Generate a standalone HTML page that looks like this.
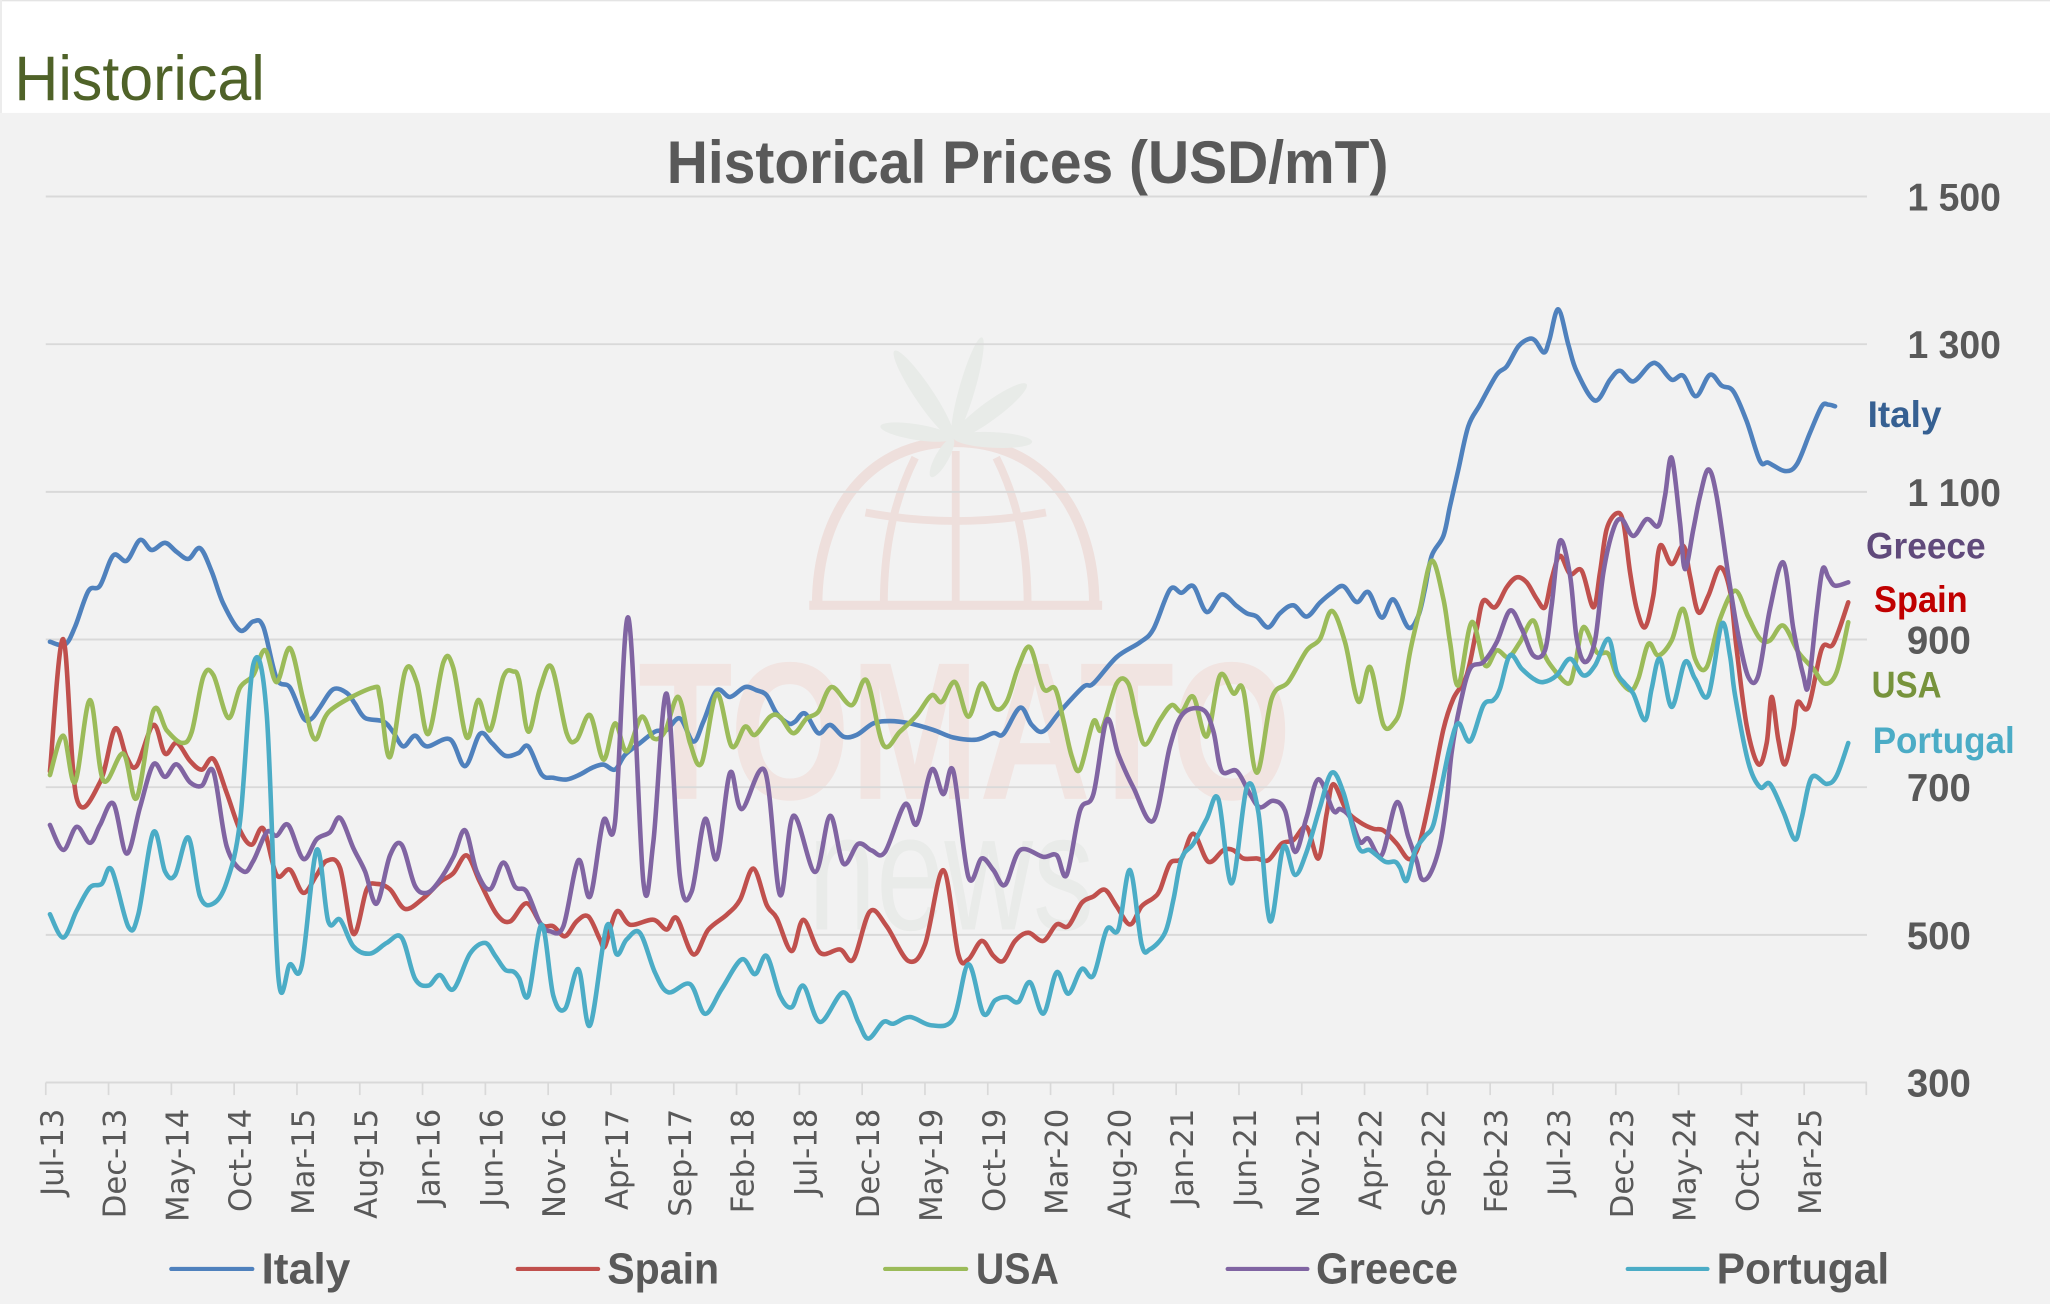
<!DOCTYPE html>
<html>
<head>
<meta charset="utf-8">
<style>
html,body{margin:0;padding:0;background:#fff;width:2050px;height:1304px;overflow:hidden}
svg{display:block}
</style>
</head>
<body>
<svg width="2050" height="1304" viewBox="0 0 1568 997.4" xmlns="http://www.w3.org/2000/svg" font-family="'Liberation Sans', 'DejaVu Sans', sans-serif">
<rect width="1568" height="997.4" fill="#ffffff"/>
<rect y="86.4" width="1568" height="911" fill="#f2f2f2"/>
<rect width="1568" height="1" fill="#e4e4e4"/>
<rect width="1.5" height="86.4" fill="#ececec"/>
<text x="11" y="76.5" font-size="48" fill="#4f6228" textLength="191.5" lengthAdjust="spacingAndGlyphs">Historical</text>

<!-- watermark -->
<g>
<text x="488" y="611" font-size="150" font-weight="bold" fill="#f1e4e1" textLength="500" lengthAdjust="spacingAndGlyphs">TOMATO</text>
<text x="618" y="711" font-size="128" fill="#e9ebe9" textLength="219" lengthAdjust="spacingAndGlyphs">news</text>
<g fill="none" stroke="#eedfdc" stroke-width="8">
<path d="M625,463 C625,390 665,338 731,338 C797,338 837,390 837,463"/>
<line x1="619" y1="463" x2="843" y2="463" stroke-width="7"/>
<line x1="731" y1="345" x2="731" y2="463" stroke-width="6"/>
<path d="M700,350 C680,390 676,430 676,463" stroke-width="6"/>
<path d="M762,350 C782,390 786,430 786,463" stroke-width="6"/>
<path d="M662,392 Q731,405 800,392" stroke-width="6"/>
</g>
<g fill="#e8ebe8">
<ellipse cx="706.5" cy="301.5" rx="40" ry="7" transform="rotate(56.1 706.5 301.5)"/>
<ellipse cx="740" cy="296.5" rx="40" ry="6" transform="rotate(-74 740 296.5)"/>
<ellipse cx="757" cy="314.5" rx="35" ry="7" transform="rotate(-36.2 757 314.5)"/>
<ellipse cx="701" cy="330.5" rx="28" ry="6" transform="rotate(9.1 701 330.5)"/>
<ellipse cx="720.5" cy="350" rx="17" ry="5" transform="rotate(119.5 720.5 350)"/>
<ellipse cx="759.5" cy="336.5" rx="30" ry="6" transform="rotate(2.8 759.5 336.5)"/>
</g>
</g>

<!-- gridlines -->
<g stroke="#d9d9d9" stroke-width="1.5">
<line x1="35" y1="150.3" x2="1428" y2="150.3"/>
<line x1="35" y1="263.25" x2="1428" y2="263.25"/>
<line x1="35" y1="376.2" x2="1428" y2="376.2"/>
<line x1="35" y1="489.15" x2="1428" y2="489.15"/>
<line x1="35" y1="602.1" x2="1428" y2="602.1"/>
<line x1="35" y1="715.05" x2="1428" y2="715.05"/>
<line x1="35" y1="828" x2="1428" y2="828"/>
</g>

<text x="786" y="140" text-anchor="middle" font-size="46" font-weight="bold" fill="#595959" textLength="552" lengthAdjust="spacingAndGlyphs">Historical Prices (USD/mT)</text>

<!-- series -->
<g fill="none" stroke-width="3.5" stroke-linejoin="round" stroke-linecap="round">
<polyline class="s" stroke="#4f81bd" points="38.2,490.9 49.7,493.0 57.4,479.4 67.6,452.1 76.5,448.0 86.7,424.8 96.9,428.9 107.1,413.0 116.0,420.7 126.2,415.2 135.1,422.1 144.1,427.5 153.0,419.3 161.9,437.1 170.8,461.7 183.6,482.2 193.8,475.3 201.4,479.4 211.6,519.0 221.8,525.9 232.0,549.1 238.4,549.6 244.8,540.9 254.9,527.2 265.2,530.0 271.5,538.2 279.2,549.1 293.2,551.8 300.8,560.0 308.5,570.9 317.4,562.7 326.4,570.9 344.2,565.5 355.7,586.0 367.1,561.3 376.1,568.2 386.3,578.0 396.5,576.0 404.1,570.9 414.3,592.4 423.2,594.9 433.4,596.2 443.6,592.4 452.6,587.4 461.5,584.8 470.4,588.6 478.1,577.3 489.5,568.4 501.0,559.6 509.9,558.3 520.1,549.5 530.3,567.2 538.0,552.0 548.2,528.0 558.4,533.1 569.8,525.5 578.8,528.0 586.4,531.8 594.1,545.7 603.0,553.3 608.1,552.0 615.7,545.7 625.9,560.8 634.9,554.5 645.1,563.4 655.3,562.1 668.0,553.3 680.7,551.5 696.0,553.3 713.9,558.3 729.2,564.1 747.0,565.7 759.8,560.7 767.4,561.5 780.2,541.3 789.1,554.4 798.0,559.4 810.8,544.3 828.6,525.4 836.3,522.8 854.1,502.6 872.0,491.3 882.2,481.2 894.9,450.9 903.8,453.4 912.8,448.4 923.0,468.1 934.4,454.7 945.9,463.5 953.6,469.1 961.2,471.6 970.1,479.9 979.0,469.1 989.2,463.0 999.4,471.6 1009.6,461.0 1018.6,453.4 1027.5,448.4 1037.7,460.5 1046.6,452.9 1056.8,472.4 1065.7,458.5 1077.2,479.9 1084.9,470.8 1089.9,450.5 1095.1,425.1 1104.0,409.9 1109.1,387.0 1115.5,359.0 1123.1,326.0 1132.0,309.5 1144.8,286.6 1152.4,280.3 1161.3,265.0 1169.0,259.4 1174.1,260.4 1181.0,269.6 1185.1,259.9 1191.9,236.6 1199.6,263.7 1206.0,284.1 1220.0,306.4 1231.5,290.4 1239.1,283.6 1249.3,291.7 1262.0,279.0 1268.4,279.0 1278.6,290.4 1287.5,287.4 1297.2,303.1 1307.9,286.6 1316.9,295.0 1325.8,299.3 1336.0,322.2 1346.2,352.7 1352.6,353.9 1365.3,360.3 1374.3,355.2 1384.4,331.1 1393.4,310.8 1398.5,309.5 1403.6,310.8"/>
<polyline class="s" stroke="#c0504d" points="38.2,590.0 48.4,488.9 58.6,610.5 76.5,598.3 88.0,557.3 96.9,579.1 104.5,585.9 117.3,554.5 126.2,576.4 135.1,568.2 145.3,581.9 154.3,588.7 163.2,580.5 173.4,606.5 183.6,635.1 192.5,646.1 201.4,633.8 211.6,669.3 221.8,665.2 232.0,682.9 242.2,669.3 249.9,658.4 260.1,663.8 270.3,714.3 280.5,680.2 288.1,676.1 298.3,680.2 309.8,695.2 323.8,687.0 336.5,674.7 346.7,667.9 357.0,654.3 367.1,674.7 379.9,699.3 390.1,704.8 402.8,690.9 414.3,707.3 423.2,708.5 432.2,716.1 441.1,704.7 450.0,701.0 458.9,718.6 462.8,723.7 471.7,697.2 481.9,707.3 499.7,703.5 509.9,711.0 517.6,702.2 530.3,730.0 541.8,711.0 555.8,699.7 566.0,688.3 576.2,664.3 586.4,692.1 594.1,702.2 605.5,727.5 614.5,703.5 627.2,728.7 642.5,726.2 652.7,733.8 665.4,697.2 678.2,708.5 694.8,735.0 707.5,722.4 721.5,665.6 733.0,730.0 740.7,733.8 750.9,719.7 759.8,731.1 767.4,734.9 776.4,719.7 786.5,713.4 798.0,719.7 808.2,707.1 817.1,708.4 827.3,690.7 836.3,685.7 845.2,680.6 854.1,693.2 864.3,707.1 873.2,693.2 882.2,686.9 887.3,680.6 894.9,660.4 903.8,656.6 912.8,637.7 924.2,659.1 935.7,650.3 943.4,650.3 951.0,656.6 961.2,656.6 970.1,657.9 980.3,645.3 989.2,642.7 999.4,632.6 1008.4,656.6 1014.7,622.5 1019.8,599.8 1030.0,620.0 1040.2,628.9 1050.4,633.9 1058.1,635.2 1068.3,645.3 1077.2,657.0 1083.6,651.0 1088.7,633.5 1095.1,603.4 1104.0,558.0 1111.6,534.4 1121.8,516.6 1129.5,481.0 1134.6,459.4 1143.5,464.5 1152.4,449.2 1160.1,441.6 1167.7,445.4 1175.4,458.1 1181.7,464.5 1186.8,442.9 1193.2,425.1 1200.9,439.1 1209.8,436.5 1218.7,464.5 1223.8,437.8 1228.9,404.8 1236.6,392.6 1241.7,399.7 1246.8,437.8 1251.9,465.8 1258.2,479.7 1264.6,455.6 1269.7,417.5 1278.6,431.5 1287.5,417.5 1292.6,440.3 1299.0,468.3 1306.7,455.6 1315.6,434.0 1323.2,451.8 1328.3,496.3 1336.0,555.0 1344.9,584.6 1351.3,568.3 1355.1,533.1 1360.2,565.8 1365.3,584.6 1371.7,558.2 1375.0,537.0 1383.2,540.7 1393.4,496.3 1402.3,492.4 1413.7,460.7"/>
<polyline class="s" stroke="#9bbb59" points="38.2,592.8 48.4,562.7 57.4,598.3 68.8,535.4 79.0,596.9 94.3,576.4 104.5,610.5 117.3,543.6 127.5,558.6 138.9,568.2 146.6,560.0 155.5,517.7 163.2,516.3 174.6,549.1 183.6,525.9 193.8,516.3 202.7,497.2 211.6,521.8 221.8,495.8 232.0,535.4 240.9,565.5 252.4,543.6 285.6,525.9 290.7,534.1 298.3,579.1 309.8,513.6 318.7,521.8 327.6,561.4 339.1,506.7 346.7,510.8 357.0,564.1 365.9,535.4 374.8,558.6 385.0,517.7 392.6,513.6 397.0,520.0 404.1,559.6 413.0,526.8 422.0,510.4 433.4,560.8 441.1,565.9 451.3,547.0 461.5,581.0 470.4,553.3 479.3,574.7 490.8,548.2 499.7,564.6 508.6,559.6 518.8,533.1 527.8,568.4 536.7,583.6 548.2,530.6 559.6,570.9 569.8,555.8 577.5,562.1 589.0,548.2 596.6,548.2 606.8,560.8 617.0,549.5 625.9,544.4 636.1,525.5 651.4,539.4 662.9,520.5 675.6,569.7 688.4,559.6 701.2,547.0 712.6,531.8 720.3,536.9 730.5,521.7 740.7,548.2 750.9,522.8 761.1,541.8 770.0,536.7 778.9,510.2 787.8,495.1 798.0,526.6 807.0,526.6 813.3,550.6 819.7,578.4 826.1,588.5 836.3,551.9 842.6,558.2 854.1,522.8 863.0,522.8 869.4,549.3 875.8,569.5 887.3,550.6 896.2,539.3 903.8,544.3 912.8,533.0 923.0,563.2 933.2,516.5 943.4,530.4 951.0,527.9 961.2,591.0 972.7,534.2 985.4,521.6 999.4,497.6 1009.6,488.8 1018.6,467.3 1028.8,491.3 1039.0,536.7 1047.9,510.2 1058.1,554.4 1067.0,551.9 1072.0,538.0 1078.5,498.8 1086.1,465.8 1095.1,428.9 1104.0,458.1 1109.1,491.2 1115.5,524.2 1125.7,475.9 1135.9,509.0 1144.8,497.5 1153.7,502.6 1162.6,491.2 1172.8,474.6 1180.5,498.8 1188.1,511.5 1199.6,522.9 1204.7,509.0 1211.1,479.7 1221.3,498.8 1230.2,500.1 1236.6,516.6 1246.8,528.0 1253.1,519.1 1260.8,492.5 1268.4,501.3 1278.6,489.9 1287.5,465.8 1296.5,503.9 1305.4,510.3 1315.6,473.4 1327.1,451.8 1337.3,472.1 1346.2,488.6 1353.8,489.9 1364.0,478.5 1375.5,498.8 1386.9,511.5 1395.8,522.9 1404.8,514.0 1413.7,475.9"/>
<polyline class="s" stroke="#8064a2" points="38.2,631.0 48.4,650.1 58.6,632.4 68.8,644.7 76.5,631.0 86.7,614.6 96.9,652.9 107.1,617.4 117.3,584.6 126.2,594.2 135.1,584.6 145.3,598.3 154.3,601.0 163.2,590.1 173.4,647.4 186.1,666.5 193.8,658.4 204.0,636.5 211.6,639.2 220.5,631.0 232.0,657.0 242.2,641.9 252.4,636.5 260.1,625.6 270.3,648.8 279.2,666.5 288.1,691.1 298.3,654.3 307.2,646.1 317.4,677.5 326.4,682.9 335.3,674.7 346.7,655.6 355.7,635.1 364.6,666.5 374.8,680.2 385.0,659.7 393.9,678.2 402.8,682.0 413.0,706.0 420.7,712.3 430.9,708.5 442.4,658.0 451.3,685.8 461.5,627.8 470.4,629.0 480.6,472.5 492.1,674.4 499.7,644.2 509.9,530.6 520.1,670.7 529.0,682.0 539.2,626.5 548.2,656.8 558.4,591.1 567.3,618.9 585.1,589.9 596.6,684.5 606.8,624.0 623.4,666.9 634.9,624.0 645.1,660.6 656.5,645.4 666.7,650.5 676.9,651.7 692.2,615.1 701.2,630.3 712.6,588.6 721.5,607.5 729.2,589.9 740.7,670.7 750.9,656.6 759.8,665.5 768.7,676.8 780.2,650.3 798.0,655.4 808.2,654.1 815.9,669.2 826.1,620.0 836.3,607.4 846.5,550.6 855.4,577.1 866.9,602.4 882.2,627.6 894.9,570.8 905.1,545.6 920.4,543.0 928.1,559.4 934.4,589.7 945.9,589.7 956.1,607.4 963.7,617.5 973.9,612.5 982.9,620.0 990.5,651.6 999.4,625.1 1008.4,596.0 1019.8,620.0 1025.0,618.8 1032.6,625.1 1040.2,644.0 1046.6,641.5 1056.8,654.1 1068.3,613.7 1077.2,640.2 1083.6,658.5 1087.4,672.3 1093.8,668.6 1101.4,646.0 1106.5,613.4 1110.3,575.8 1116.7,539.5 1124.4,511.5 1134.6,506.4 1144.8,491.2 1155.0,467.0 1163.9,481.0 1172.8,501.3 1181.7,497.5 1186.8,463.2 1193.2,413.7 1200.9,440.3 1206.0,488.6 1212.3,506.4 1220.0,489.9 1226.4,437.8 1234.0,404.8 1240.4,397.1 1249.3,409.9 1259.5,397.1 1268.4,402.2 1273.5,379.4 1278.6,350.1 1285.0,399.7 1288.8,435.3 1295.2,404.8 1300.3,379.4 1306.7,359.0 1313.0,379.4 1322.0,440.3 1329.6,486.1 1337.3,517.9 1344.9,516.6 1353.8,465.8 1364.0,430.2 1371.7,481.0 1379.3,516.6 1383.2,524.2 1389.5,468.3 1394.1,435.3 1398.5,441.6 1403.6,448.0 1413.7,445.4"/>
<polyline class="s" stroke="#4bacc6" points="38.2,699.3 48.4,717.1 58.6,696.6 68.8,678.8 77.8,676.1 85.4,665.2 98.2,708.9 105.8,699.3 117.3,636.5 126.2,666.5 133.9,669.3 144.1,640.6 153.0,685.7 163.2,691.1 173.4,674.7 183.6,628.3 193.8,508.1 204.0,546.3 212.9,747.1 221.8,737.6 230.7,738.9 242.2,650.1 251.1,704.8 260.1,703.4 270.3,723.9 283.0,729.4 295.8,721.2 307.2,717.1 317.4,748.5 327.6,753.9 336.5,745.8 346.7,756.7 359.5,729.4 371.0,721.2 378.6,730.8 386.3,741.7 392.6,743.1 397.0,748.0 404.1,761.5 414.3,707.3 423.2,761.5 432.2,771.6 442.4,741.3 451.3,784.3 464.0,708.5 471.7,730.0 479.3,718.6 489.5,713.6 501.0,743.9 511.2,759.0 527.8,752.7 539.2,775.4 552.0,756.5 567.3,733.8 577.5,745.1 586.4,731.2 596.6,761.5 605.5,770.4 614.5,754.0 627.2,781.7 645.1,759.0 656.5,781.7 664.2,794.4 675.6,781.7 683.3,783.0 696.0,777.9 712.6,784.3 729.2,779.2 740.7,737.6 752.1,775.3 761.1,765.2 770.0,762.6 778.9,766.4 787.8,751.3 798.0,775.3 808.2,743.7 817.1,760.1 827.3,741.2 836.3,746.2 846.5,710.9 855.4,710.9 864.3,665.5 873.2,722.3 879.6,726.1 891.1,713.4 897.5,688.2 903.8,656.6 912.8,645.3 923.0,626.3 931.9,611.2 942.1,675.6 953.6,602.4 962.5,621.3 971.4,704.6 981.6,647.8 990.5,669.2 999.4,651.6 1009.6,617.5 1018.6,591.0 1027.5,606.1 1039.0,647.8 1047.9,650.3 1059.4,659.1 1067.0,659.1 1070.8,663.6 1075.9,673.6 1082.3,651.0 1089.9,639.7 1096.3,631.0 1102.7,600.9 1109.1,570.8 1115.5,553.2 1124.4,567.0 1134.6,539.5 1142.2,535.6 1147.3,526.8 1154.9,501.3 1163.9,511.5 1172.8,519.1 1180.5,521.7 1190.7,516.6 1200.9,503.9 1211.1,516.6 1220.0,509.0 1230.2,488.6 1236.6,514.0 1242.9,522.9 1249.3,530.6 1258.2,550.9 1263.3,526.8 1269.7,503.9 1278.6,540.7 1288.8,506.4 1296.5,519.1 1306.7,531.8 1316.9,477.2 1323.2,501.3 1327.1,531.8 1337.3,583.3 1346.2,602.1 1353.8,599.6 1364.0,620.9 1372.9,642.2 1378.0,626.0 1385.7,594.6 1397.2,599.6 1404.8,593.3 1413.7,568.3"/>
</g>

<!-- end labels -->
<g font-weight="bold" font-size="28">
<text x="1428.5" y="326.5" fill="#366092" textLength="56.5" lengthAdjust="spacingAndGlyphs">Italy</text>
<text x="1427.3" y="427" fill="#604a7b" textLength="91.5" lengthAdjust="spacingAndGlyphs">Greece</text>
<text x="1433.4" y="468" fill="#c00000" textLength="71.6" lengthAdjust="spacingAndGlyphs">Spain</text>
<text x="1431.6" y="533.6" fill="#77933c" textLength="53.4" lengthAdjust="spacingAndGlyphs">USA</text>
<text x="1432.4" y="576" fill="#4bacc6" textLength="108.6" lengthAdjust="spacingAndGlyphs">Portugal</text>
</g>

<!-- y axis labels -->
<g font-weight="bold" font-size="30" fill="#595959">
<text x="1459" y="161" textLength="71.5" lengthAdjust="spacingAndGlyphs">1 500</text>
<text x="1459" y="274" textLength="71.5" lengthAdjust="spacingAndGlyphs">1 300</text>
<text x="1459" y="387" textLength="71.5" lengthAdjust="spacingAndGlyphs">1 100</text>
<text x="1458.5" y="499.9" textLength="49" lengthAdjust="spacingAndGlyphs">900</text>
<text x="1458.5" y="612.8" textLength="49" lengthAdjust="spacingAndGlyphs">700</text>
<text x="1458.5" y="725.8" textLength="49" lengthAdjust="spacingAndGlyphs">500</text>
<text x="1458.5" y="838.7" textLength="49" lengthAdjust="spacingAndGlyphs">300</text>
</g>

<!-- x axis labels -->
<g font-family="'DejaVu Sans', 'Liberation Sans', sans-serif" font-size="23.5" fill="#595959" text-anchor="end">
<text transform="translate(48,848) rotate(-90)">Jul-13</text>
<text transform="translate(96.03,848) rotate(-90)">Dec-13</text>
<text transform="translate(144.07,848) rotate(-90)">May-14</text>
<text transform="translate(192.1,848) rotate(-90)">Oct-14</text>
<text transform="translate(240.14,848) rotate(-90)">Mar-15</text>
<text transform="translate(288.17,848) rotate(-90)">Aug-15</text>
<text transform="translate(336.21,848) rotate(-90)">Jan-16</text>
<text transform="translate(384.24,848) rotate(-90)">Jun-16</text>
<text transform="translate(432.28,848) rotate(-90)">Nov-16</text>
<text transform="translate(480.31,848) rotate(-90)">Apr-17</text>
<text transform="translate(528.35,848) rotate(-90)">Sep-17</text>
<text transform="translate(576.38,848) rotate(-90)">Feb-18</text>
<text transform="translate(624.42,848) rotate(-90)">Jul-18</text>
<text transform="translate(672.45,848) rotate(-90)">Dec-18</text>
<text transform="translate(720.49,848) rotate(-90)">May-19</text>
<text transform="translate(768.52,848) rotate(-90)">Oct-19</text>
<text transform="translate(816.56,848) rotate(-90)">Mar-20</text>
<text transform="translate(864.59,848) rotate(-90)">Aug-20</text>
<text transform="translate(912.63,848) rotate(-90)">Jan-21</text>
<text transform="translate(960.66,848) rotate(-90)">Jun-21</text>
<text transform="translate(1008.7,848) rotate(-90)">Nov-21</text>
<text transform="translate(1056.73,848) rotate(-90)">Apr-22</text>
<text transform="translate(1104.77,848) rotate(-90)">Sep-22</text>
<text transform="translate(1152.8,848) rotate(-90)">Feb-23</text>
<text transform="translate(1200.84,848) rotate(-90)">Jul-23</text>
<text transform="translate(1248.87,848) rotate(-90)">Dec-23</text>
<text transform="translate(1296.91,848) rotate(-90)">May-24</text>
<text transform="translate(1344.94,848) rotate(-90)">Oct-24</text>
<text transform="translate(1392.98,848) rotate(-90)">Mar-25</text>
</g>

<!-- ticks -->
<g stroke="#d9d9d9" stroke-width="1.3">
<line x1="35" y1="828" x2="35" y2="837.6"/><line x1="83.03" y1="828" x2="83.03" y2="837.6"/><line x1="131.07" y1="828" x2="131.07" y2="837.6"/><line x1="179.1" y1="828" x2="179.1" y2="837.6"/><line x1="227.14" y1="828" x2="227.14" y2="837.6"/><line x1="275.17" y1="828" x2="275.17" y2="837.6"/><line x1="323.21" y1="828" x2="323.21" y2="837.6"/><line x1="371.24" y1="828" x2="371.24" y2="837.6"/><line x1="419.28" y1="828" x2="419.28" y2="837.6"/><line x1="467.31" y1="828" x2="467.31" y2="837.6"/><line x1="515.35" y1="828" x2="515.35" y2="837.6"/><line x1="563.38" y1="828" x2="563.38" y2="837.6"/><line x1="611.42" y1="828" x2="611.42" y2="837.6"/><line x1="659.45" y1="828" x2="659.45" y2="837.6"/><line x1="707.49" y1="828" x2="707.49" y2="837.6"/><line x1="755.52" y1="828" x2="755.52" y2="837.6"/><line x1="803.56" y1="828" x2="803.56" y2="837.6"/><line x1="851.59" y1="828" x2="851.59" y2="837.6"/><line x1="899.63" y1="828" x2="899.63" y2="837.6"/><line x1="947.66" y1="828" x2="947.66" y2="837.6"/><line x1="995.7" y1="828" x2="995.7" y2="837.6"/><line x1="1043.73" y1="828" x2="1043.73" y2="837.6"/><line x1="1091.77" y1="828" x2="1091.77" y2="837.6"/><line x1="1139.8" y1="828" x2="1139.8" y2="837.6"/><line x1="1187.84" y1="828" x2="1187.84" y2="837.6"/><line x1="1235.87" y1="828" x2="1235.87" y2="837.6"/><line x1="1283.91" y1="828" x2="1283.91" y2="837.6"/><line x1="1331.94" y1="828" x2="1331.94" y2="837.6"/><line x1="1379.98" y1="828" x2="1379.98" y2="837.6"/><line x1="1427.5" y1="828" x2="1427.5" y2="837.6"/>
</g>

<!-- legend -->
<g stroke-width="3.2" stroke-linecap="round">
<line x1="131" y1="970.6" x2="193" y2="970.6" stroke="#4f81bd"/>
<line x1="396" y1="970.6" x2="457.5" y2="970.6" stroke="#c0504d"/>
<line x1="677" y1="970.6" x2="739" y2="970.6" stroke="#9bbb59"/>
<line x1="939" y1="970.6" x2="1000" y2="970.6" stroke="#8064a2"/>
<line x1="1245" y1="970.6" x2="1306" y2="970.6" stroke="#4bacc6"/>
</g>
<g font-weight="bold" font-size="33.5" fill="#595959">
<text x="200" y="981.8" textLength="68" lengthAdjust="spacingAndGlyphs">Italy</text>
<text x="464.5" y="981.8" textLength="85.5" lengthAdjust="spacingAndGlyphs">Spain</text>
<text x="746.4" y="981.8" textLength="63.5" lengthAdjust="spacingAndGlyphs">USA</text>
<text x="1006.6" y="981.8" textLength="108.6" lengthAdjust="spacingAndGlyphs">Greece</text>
<text x="1313" y="981.8" textLength="132" lengthAdjust="spacingAndGlyphs">Portugal</text>
</g>
</svg>
<script>
(function(){
  var pls=document.querySelectorAll('polyline.s');
  for(var k=0;k<pls.length;k++){
    var pl=pls[k];
    var raw=pl.getAttribute('points').trim().split(/\s+/);
    var a=[];
    for(var j=0;j<raw.length;j++){var q=raw[j].split(',');a.push([parseFloat(q[0]),parseFloat(q[1])]);}
    var n=a.length,t=1/6;
    var d='M'+a[0][0]+','+a[0][1];
    for(var i=0;i<n-1;i++){
      var p0=a[i>0?i-1:0],p1=a[i],p2=a[i+1],p3=a[i+2<n?i+2:n-1];
      var c1x=p1[0]+(p2[0]-p0[0])*t,c1y=p1[1]+(p2[1]-p0[1])*t;
      var c2x=p2[0]-(p3[0]-p1[0])*t,c2y=p2[1]-(p3[1]-p1[1])*t;
      if(c1x>p2[0])c1x=p2[0];
      if(c2x<p1[0])c2x=p1[0];
      d+=' C'+c1x.toFixed(2)+','+c1y.toFixed(2)+' '+c2x.toFixed(2)+','+c2y.toFixed(2)+' '+p2[0]+','+p2[1];
    }
    var path=document.createElementNS('http://www.w3.org/2000/svg','path');
    path.setAttribute('d',d);
    path.setAttribute('stroke',pl.getAttribute('stroke'));
    pl.parentNode.replaceChild(path,pl);
  }
})();
</script>
</body>
</html>
